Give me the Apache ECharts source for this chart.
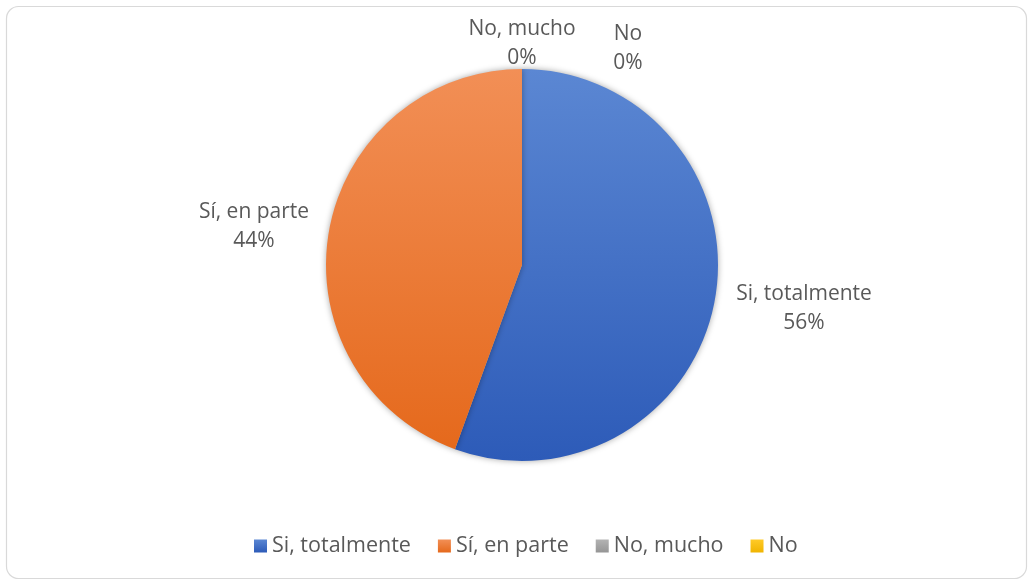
<!DOCTYPE html>
<html>
<head>
<meta charset="utf-8">
<script src="https://cdn.jsdelivr.net/npm/echarts@6/dist/echarts.min.js"></script>
<style>
html,body{margin:0;padding:0;background:#fff;}
#chart{width:1029px;height:580px;}
</style>
</head>
<body>
<div id="chart"></div>
<script>
const categories = ['Si, totalmente', 'Sí, en parte', 'No, mucho', 'No'];
const values = [5, 4, 0, 0];
const colorTop = ['#5B87D3', '#F28F56', '#B3B3B3', '#FFCA28'];
const colorBottom = ['#2D5BB8', '#E5691C', '#959595', '#F0B400'];

const chart = echarts.init(document.getElementById('chart'));
const font = "'Open Sans', 'Noto Sans', sans-serif";
const cx = 522, cy = 265;
const labelOffsets = [[282, 44], [-268, -38], [0, -221], [106, -216]];

const option = {
  animation: false,
  graphic: [{
    type: 'rect',
    shape: {x: 6.5, y: 6.5, width: 1020, height: 572, r: 12},
    style: {fill: 'none', stroke: '#D9D9D9', lineWidth: 1.2},
    silent: true, z: -1
  }],
  legend: {
    bottom: 18,
    left: 249,
    icon: 'rect',
    itemWidth: 13,
    itemHeight: 13,
    itemGap: 27,
    textStyle: {fontSize: 21.5, color: '#595959', fontFamily: font},
    data: categories
  },
  series: [{
    type: 'pie',
    center: [cx, cy],
    radius: 196,
    startAngle: 90,
    clockwise: true,
    avoidLabelOverlap: false,
    minShowLabelAngle: 0,
    stillShowZeroSum: true,
    label: {
      show: true,
      position: 'outside',
      fontSize: 21,
      lineHeight: 29,
      color: '#595959',
      fontFamily: font,
      align: 'center',
      formatter: p => p.name + '\n' + Math.round(p.percent) + '%'
    },
    labelLine: {show: false, length: 20, length2: 0},
    labelLayout: function (params) {
      const o = labelOffsets[params.dataIndex];
      return {x: cx + o[0], y: cy + o[1], align: 'center', verticalAlign: 'middle'};
    },
    emphasis: {disabled: true},
    itemStyle: {
      shadowBlur: 6,
      shadowColor: 'rgba(0,0,0,0.35)'
    },
    data: categories.map((c, i) => ({
      name: c,
      value: values[i],
      itemStyle: {
        color: new echarts.graphic.LinearGradient(0, 0, 0, 1, [
          {offset: 0, color: colorTop[i]},
          {offset: 1, color: colorBottom[i]}
        ])
      }
    }))
  }]
};
chart.setOption(option);
</script>
</body>
</html>
